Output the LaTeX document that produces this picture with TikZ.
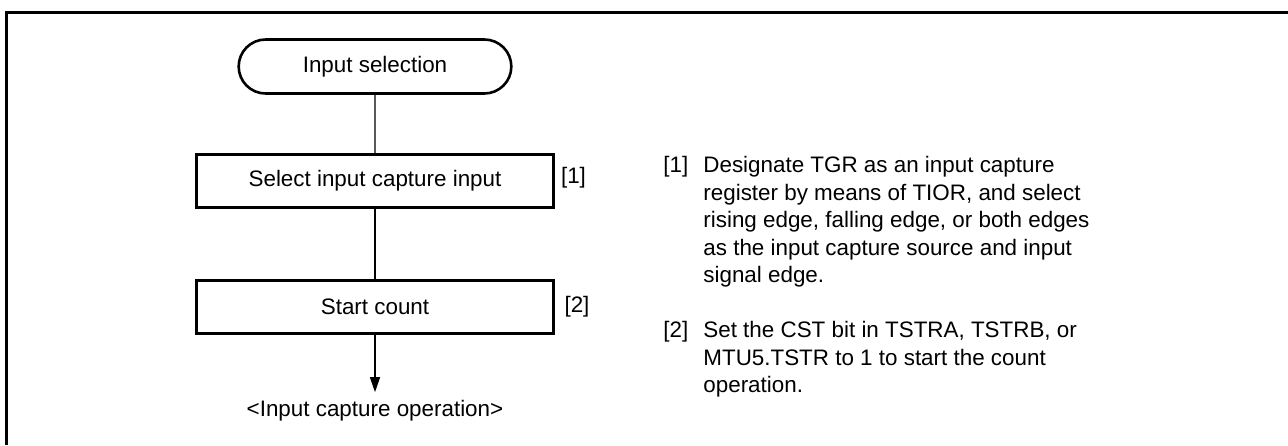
\documentclass[tikz,border=0pt]{standalone}
\usepackage{fontspec}
\setmainfont{Liberation Sans}
\usetikzlibrary{arrows.meta, positioning, shapes.misc}

\begin{document}
\begin{tikzpicture}[
        x = 0.5pt, y = -0.5pt, node distance = 63pt, on grid,
        >= {Triangle[length = 7.5pt, width = 5pt]},
        every node/.style = {font = \fontsize{11.2}{13.75}\selectfont},
        terminal/.style = {draw, line width = 1.3pt, rounded rectangle, minimum width = 143pt, minimum height = 27pt},
        process/.style = {draw, line width = 1.5pt, minimum width = 178.5pt, minimum height = 26.5pt},
        stepmark/.style = {inner sep = 0pt},
        notetext/.style = {align = left, inner sep = 0pt}
    ]
    \useasboundingbox (0, 0) rectangle (1288, 445);
    \draw[line width = 1.5pt] (1288, 12) -- (6, 12) -- (6, 445);

    \node[terminal] (start) at (375, 66.5) {Input selection};
    \node[process] (select) [below = 57.25pt of start] {Select input capture input};
    \node[process] (count) [below = of select] {Start count};
    \node (result) [below = 52pt of count, inner sep = 4pt] {<Input capture operation>};

    \node[stepmark] (mark1) [right = 99.25pt of select, yshift = 1.5pt] {[1]};
    \node[stepmark] (mark2) [right = 101pt of count] {[2]};

    % notes on the right
    \node[notetext, anchor = north west] (num1) at (663, 156) {[1]};
    \node[notetext] (note1) [right = 20pt of num1.north west, anchor = north west]
        {Designate TGR as an input capture\\
         register by means of TIOR, and select\\
         rising edge, falling edge, or both edges\\
         as the input capture source and input\\
         signal edge.};
    \node[notetext, anchor = north west] (num2) at (663, 321) {[2]};
    \node[notetext] (note2) [right = 20pt of num2.north west, anchor = north west]
        {Set the CST bit in TSTRA, TSTRB, or\\
         MTU5.TSTR to 1 to start the count\\
         operation.};

    \path[line width = 0.7pt]
        (start) edge (select)
        (select) edge (count)
        (count) edge [->] (result);
\end{tikzpicture}
\end{document}
